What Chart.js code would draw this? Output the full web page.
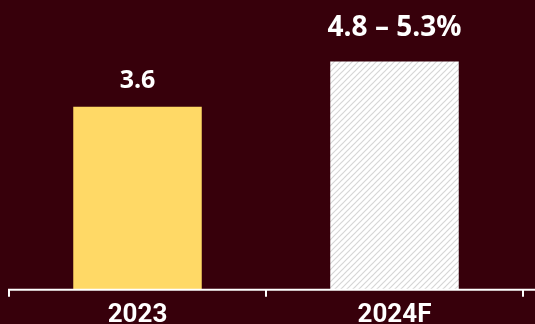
<!DOCTYPE html>
<html>
<head>
<meta charset="utf-8">
<script src="https://cdn.jsdelivr.net/npm/chart.js@4"></script>
<style>
html,body{margin:0;padding:0;background:#37000b;}
canvas{display:block;}
</style>
</head>
<body>
<canvas id="c" width="535" height="324"></canvas>
<script>
const categories = ["2023", "2024F"];
const values = [3.6, 4.49];
const valueLabels = ["3.6", "4.8 \u2013 5.3%"];

const BG = "#37000b";
const labelFonts = ["bold 25px 'Open Sans'", "bold 28px 'Open Sans'"];
const labelGaps = [19, 26];

function hatch() {
  const s = 6;
  const p = document.createElement("canvas");
  p.width = s; p.height = s;
  const g = p.getContext("2d");
  g.fillStyle = "#ffffff";
  g.fillRect(0, 0, s, s);
  g.strokeStyle = "#d6d6d6";
  g.lineWidth = 1.2;
  g.beginPath();
  g.moveTo(0, s); g.lineTo(s, 0);
  g.moveTo(-s/2, s/2); g.lineTo(s/2, -s/2);
  g.moveTo(s/2, s*1.5); g.lineTo(s*1.5, s/2);
  g.stroke();
  return g.createPattern(p, "repeat");
}

const ctx = document.getElementById("c").getContext("2d");

const bgPlugin = {
  id: "bg",
  beforeDraw(chart) {
    const c = chart.ctx;
    c.save();
    c.fillStyle = BG;
    c.fillRect(0, 0, chart.width, chart.height);
    c.restore();
  }
};

const axisPlugin = {
  id: "axisline",
  afterDatasetsDraw(chart) {
    const c = chart.ctx;
    const y = chart.scales.x.top;
    c.save();
    c.strokeStyle = "#ffffff";
    c.lineWidth = 2;
    c.beginPath();
    c.moveTo(chart.chartArea.left - 1, y);
    c.lineTo(chart.width, y);
    c.stroke();
    c.restore();
  }
};

const labelPlugin = {
  id: "vlabels",
  afterDatasetsDraw(chart) {
    const c = chart.ctx;
    const meta = chart.getDatasetMeta(0);
    c.save();
    c.fillStyle = "#ffffff";
    c.textAlign = "center";
    c.textBaseline = "alphabetic";
    meta.data.forEach((bar, i) => {
      c.font = labelFonts[i];
      c.fillText(valueLabels[i], bar.x, bar.y - labelGaps[i]);
    });
    c.restore();
  }
};

new Chart(ctx, {
  type: "bar",
  data: {
    labels: categories,
    datasets: [{
      data: values,
      backgroundColor: ["#FFD966", hatch()],
      borderWidth: 0,
      barPercentage: 0.5,
      categoryPercentage: 1.0
    }]
  },
  options: {
    responsive: false,
    animation: false,
    layout: { padding: { left: 9, right: 12, top: 0, bottom: -10 } },
    plugins: { legend: { display: false }, tooltip: { enabled: false } },
    scales: {
      x: {
        offset: true,
        border: { display: false },
        grid: {
          offset: true,
          drawOnChartArea: false,
          drawTicks: true,
          tickLength: 7,
          color: "#ffffff",
          lineWidth: 2
        },
        ticks: {
          color: "#ffffff",
          padding: 3,
          font: { family: "Roboto", weight: "bold", size: 26 }
        }
      },
      y: {
        display: false,
        min: 0,
        max: 5.7
      }
    }
  },
  plugins: [bgPlugin, axisPlugin, labelPlugin]
});
</script>
</body>
</html>
